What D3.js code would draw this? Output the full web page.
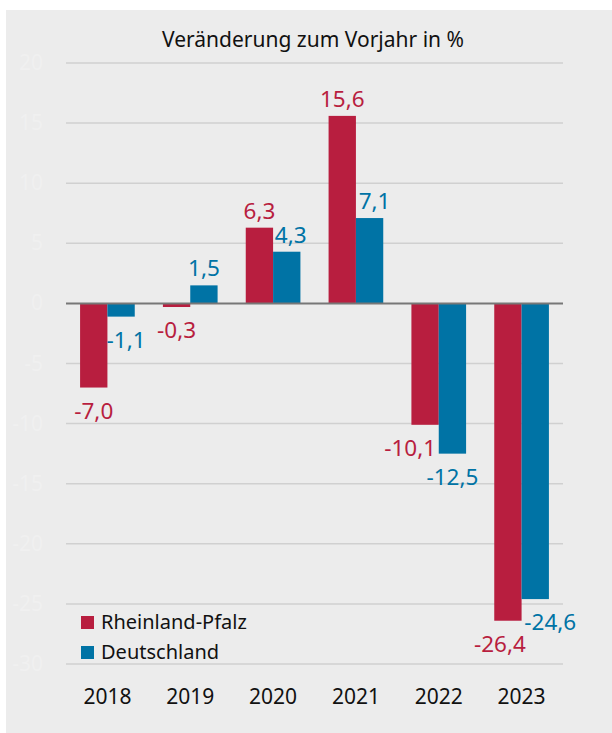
<!DOCTYPE html>
<html>
<head>
<meta charset="utf-8">
<script src="https://cdn.jsdelivr.net/npm/d3@7"></script>
<style>
  html, body { margin: 0; padding: 0; background: #fff; }
  svg { display: block; font-family: "Noto Sans", "Open Sans", sans-serif; }
</style>
</head>
<body>
<div id="chart"></div>
<script>
// Veränderung zum Vorjahr in %
const years = ['2018', '2019', '2020', '2021', '2022', '2023'];
const rheinlandPfalz = [-7.0, -0.3, 6.3, 15.6, -10.1, -26.4];
const deutschland = [-1.1, 1.5, 4.3, 7.1, -12.5, -24.6];
const seriesNames = ['Rheinland-Pfalz', 'Deutschland'];
const yTicks = [20, 15, 10, 5, 0, -5, -10, -15, -20, -25, -30];

// label nudges so the numbers do not collide (layout only)
const labelShift = {
  'Rheinland-Pfalz': [0, 0, 0, 0, -15, -8],
  'Deutschland': [5, 0, 4, 5, 0, 15]
};

const colors = { 'Rheinland-Pfalz': '#b81e3f', 'Deutschland': '#0073a5' };

const width = 612, height = 733;
const svg = d3.select('#chart').append('svg')
  .attr('width', width)
  .attr('height', height);

svg.append('rect')
  .attr('x', 6).attr('y', 10)
  .attr('width', width - 6).attr('height', height - 10)
  .attr('fill', '#ececec');

svg.append('text')
  .attr('x', 313).attr('y', 47)
  .attr('text-anchor', 'middle')
  .attr('font-size', 21)
  .attr('fill', '#111')
  .text('Veränderung zum Vorjahr in %');

const x = d3.scaleBand()
  .domain(years)
  .range([66, 563])
  .paddingInner(0.34)
  .paddingOuter(0.17);

const xInner = d3.scaleBand()
  .domain(seriesNames)
  .range([0, x.bandwidth()]);

const y = d3.scaleLinear()
  .domain([-30, 20])
  .range([664, 63]);

// grid
svg.append('g')
  .selectAll('line')
  .data(yTicks.filter(d => d !== 0))
  .join('line')
  .attr('x1', 66).attr('x2', 563)
  .attr('y1', d => y(d)).attr('y2', d => y(d))
  .attr('stroke', '#d0d0d0')
  .attr('stroke-width', 1.5);

// faint tick labels
svg.append('g')
  .selectAll('text')
  .data(yTicks)
  .join('text')
  .attr('x', 43)
  .attr('y', d => y(d) + 7)
  .attr('text-anchor', 'end')
  .attr('font-size', 21)
  .attr('fill', '#f0f0f0')
  .text(d => d);

const rows = years.map((yr, i) => ({
  year: yr,
  values: [
    { name: 'Rheinland-Pfalz', value: rheinlandPfalz[i], i },
    { name: 'Deutschland', value: deutschland[i], i }
  ]
}));

const groups = svg.append('g')
  .selectAll('g')
  .data(rows)
  .join('g')
  .attr('transform', d => `translate(${x(d.year)},0)`);

groups.selectAll('rect')
  .data(d => d.values)
  .join('rect')
  .attr('x', d => xInner(d.name))
  .attr('width', xInner.bandwidth())
  .attr('y', d => y(Math.max(0, d.value)))
  .attr('height', d => Math.abs(y(d.value) - y(0)))
  .attr('fill', d => colors[d.name]);

groups.selectAll('text')
  .data(d => d.values)
  .join('text')
  .attr('x', d => xInner(d.name) + xInner.bandwidth() / 2 + labelShift[d.name][d.i])
  .attr('y', d => d.value >= 0 ? y(d.value) - 9 : y(d.value) + 31)
  .attr('text-anchor', 'middle')
  .attr('font-size', 22.5)
  .attr('fill', d => colors[d.name])
  .text(d => d3.format('.1f')(d.value).replace('.', ',').replace('−', '-'));

// zero line
svg.append('line')
  .attr('x1', 66).attr('x2', 563)
  .attr('y1', y(0)).attr('y2', y(0))
  .attr('stroke', '#777')
  .attr('stroke-width', 2);

// x axis labels
svg.append('g')
  .selectAll('text')
  .data(years)
  .join('text')
  .attr('x', d => x(d) + x.bandwidth() / 2)
  .attr('y', 704)
  .attr('text-anchor', 'middle')
  .attr('font-size', 21)
  .attr('fill', '#111')
  .text(d => d);

// legend
const legend = svg.append('g')
  .selectAll('g')
  .data(seriesNames)
  .join('g')
  .attr('transform', (d, i) => `translate(81,${616 + i * 30})`);

legend.append('rect')
  .attr('width', 13).attr('height', 13)
  .attr('fill', d => colors[d]);

legend.append('text')
  .attr('x', 20).attr('y', 13)
  .attr('font-size', 20)
  .attr('fill', '#111')
  .text(d => d);
</script>
</body>
</html>
